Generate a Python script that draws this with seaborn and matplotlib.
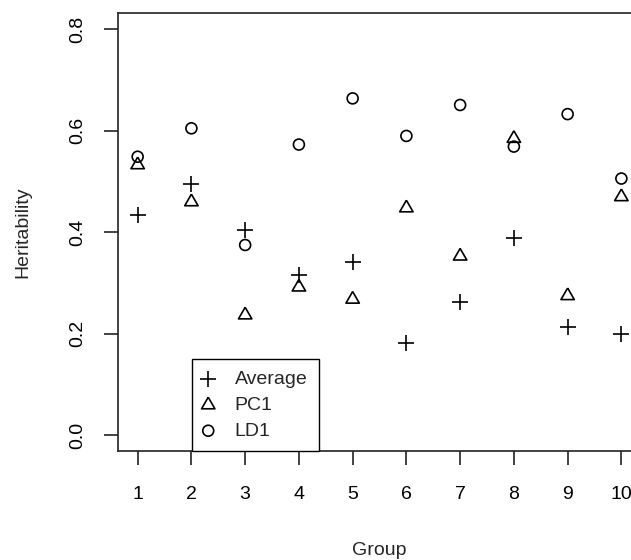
import numpy as np
import pandas as pd
import matplotlib
matplotlib.use('Agg')
import matplotlib.pyplot as plt
import seaborn as sns

# values
groups = [1, 2, 3, 4, 5, 6, 7, 8, 9, 10]
average = [0.434, 0.496, 0.404, 0.316, 0.342, 0.182, 0.262, 0.388, 0.214, 0.199]
pc1 = [0.533, 0.460, 0.237, 0.292, 0.268, 0.448, 0.353, 0.585, 0.275, 0.470]
ld1 = [0.549, 0.605, 0.375, 0.573, 0.664, 0.590, 0.651, 0.569, 0.633, 0.506]
y_ticks = [0.0, 0.2, 0.4, 0.6, 0.8]

sns.set_theme(style='ticks')
plt.rcParams['font.family'] = ['Liberation Sans', 'DejaVu Sans']

df = pd.DataFrame({'Group': groups, 'Average': average, 'PC1': pc1, 'LD1': ld1})

# open triangle centred on its centroid, like R's pch = 2
tri = [(0, 1), (-0.866, -0.5), (0.866, -0.5), (0, 1)]

fig = plt.figure(figsize=(6.31, 5.6), dpi=100)
ax = fig.add_axes([0.1875, 0.1938, 0.8279, 0.7827])

lw = 1.2
sns.scatterplot(data=df, x='Group', y='Average', marker='+', s=130,
                color='black', linewidth=lw, label='Average', ax=ax)
sns.scatterplot(data=df, x='Group', y='PC1', marker=tri, s=123,
                facecolor='none', edgecolor='black', linewidth=lw,
                label='PC1', ax=ax)
sns.scatterplot(data=df, x='Group', y='LD1', marker='o', s=62,
                facecolor='none', edgecolor='black', linewidth=lw,
                label='LD1', ax=ax)

ax.set_xlim(0.64, 10.36)
ax.set_ylim(-0.032, 0.832)
ax.set_xticks(groups)
ax.set_yticks(y_ticks)
ax.set_yticklabels([f'{v:.1f}' for v in y_ticks])

for side in ['left', 'right', 'top', 'bottom']:
    ax.spines[side].set_visible(True)
    ax.spines[side].set_linewidth(lw)
    ax.spines[side].set_color('#222222')

ax.tick_params(axis='both', direction='out', length=10, width=lw,
               pad=13, labelsize=14, color='#222222', labelcolor='black')
ax.tick_params(axis='x', pad=15)
ax.tick_params(axis='y', labelrotation=90)
plt.setp(ax.get_yticklabels(), va='center')

ax.set_xlabel('Group', fontsize=14)
ax.set_ylabel('Heritability', fontsize=14)
ax.xaxis.set_label_coords(0.5, -0.226)
ax.xaxis.label.set_va('center')
ax.yaxis.set_label_coords(-0.1824, 0.5)
ax.yaxis.label.set_va('center')

leg = ax.legend(loc='upper left', bbox_to_anchor=(0.1405, 0.211),
                borderaxespad=0, frameon=True, fancybox=False,
                edgecolor='black', framealpha=1, fontsize=14,
                handlelength=0.5, handletextpad=1.1, borderpad=0.6,
                labelspacing=0.42, scatterpoints=1)
leg.get_frame().set_linewidth(1.0)

fig.savefig('out.png', dpi=100)
